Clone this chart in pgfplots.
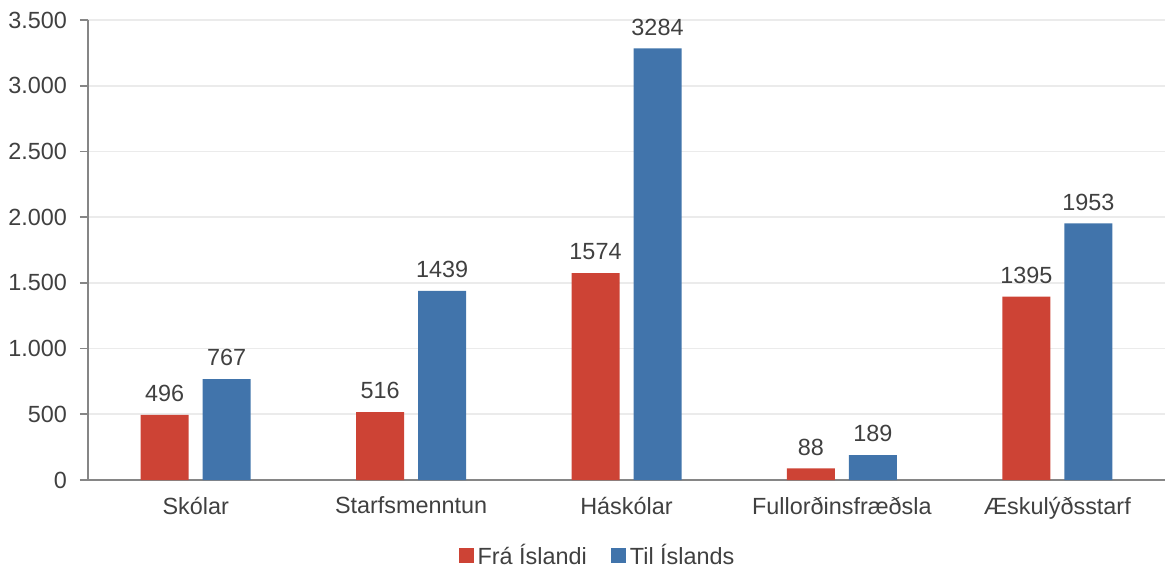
\documentclass[border=0pt]{standalone}
\usepackage{pgfplots}
\pgfplotsset{compat=1.18}
\usepackage{fontspec}
\setmainfont{Liberation Sans}
\definecolor{cred}{HTML}{CD4335}
\definecolor{cblue}{HTML}{4174AB}
\definecolor{ctext}{HTML}{404040}
\definecolor{cgrid}{HTML}{EBEBEB}
\definecolor{caxis}{HTML}{868686}
\begin{document}
\begin{tikzpicture}
\begin{axis}[
  scale only axis,
  width=538.5pt, height=230pt,
  xmin=-0.5, xmax=4.5,
  ymin=0, ymax=3500,
  ytick={0,500,1000,1500,2000,2500,3000,3500},
  xtick={0,1,2,3,4},
  xticklabels={Skólar,Starfsmenntun,Háskólar,Fullorðinsfræðsla,Æskulýðsstarf},
  /pgf/number format/assume math mode=true,
  /pgf/number format/1000 sep={.},
  yticklabel style={font=\fontsize{11.7}{13}\selectfont, text=ctext, xshift=-3pt},
  xticklabel style={font=\fontsize{11.7}{13}\selectfont, text=ctext, yshift=-1pt},
  axis x line*=bottom,
  axis y line*=left,
  axis line style={caxis, line width=0.8pt},
  x axis line style={-},
  y axis line style={-},
  major x tick style={draw=none},
  major y tick style={caxis, line width=0.8pt},
  ytick align=outside,
  major tick length=4pt,
  ymajorgrids,
  grid style={cgrid, line width=0.8pt},
  ybar,
  bar width=24pt,
  nodes near coords,
  every node near coord/.append style={font=\fontsize{11.7}{13}\selectfont, text=ctext, /pgf/number format/fixed, /pgf/number format/1000 sep={}, yshift=3pt},
  legend style={at={(0.474,-0.164)}, anchor=center, draw=none, legend columns=2,
    font=\fontsize{11.7}{13}\selectfont, text=ctext,
    /tikz/every even column/.append style={column sep=10pt}},
  legend image code/.code={\fill[#1] (0pt,-3.75pt) rectangle (7.5pt,3.75pt);},
  clip=false,
]
\addplot[fill=cred, draw=none, bar shift=-15.5pt] coordinates {(0,496) (1,516) (2,1574) (3,88) (4,1395)};
\addplot[fill=cblue, draw=none, bar shift=15.5pt] coordinates {(0,767) (1,1439) (2,3284) (3,189) (4,1953)};
\legend{Frá Íslandi, Til Íslands}
\coordinate (bl) at (rel axis cs:0,0);
\coordinate (tr) at (rel axis cs:1,1);
\end{axis}
\pgfresetboundingbox
\path[use as bounding box] ([xshift=-44pt,yshift=-46pt]bl) rectangle ([yshift=10pt]tr);
\end{tikzpicture}
\end{document}
